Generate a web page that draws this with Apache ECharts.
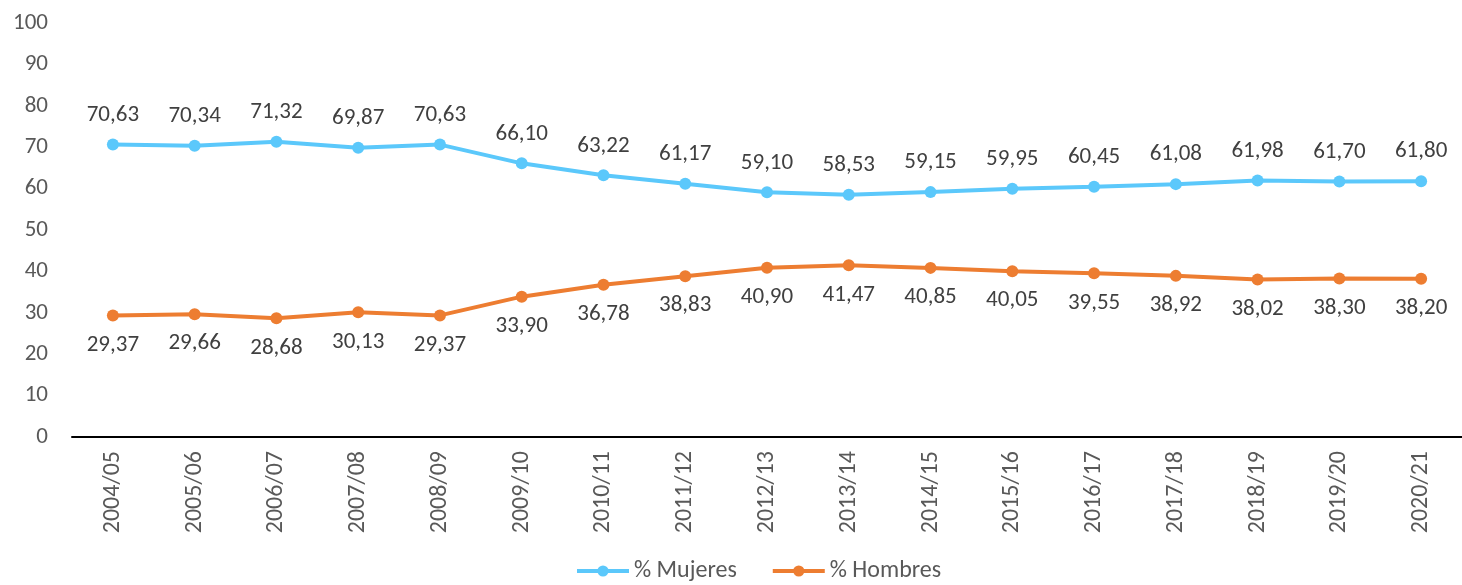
<!DOCTYPE html>
<html>
<head>
<meta charset="utf-8">
<script src="https://cdn.jsdelivr.net/npm/echarts@6/dist/echarts.min.js"></script>
<style>
  html, body { margin: 0; padding: 0; background: #fff; }
  #chart { width: 1462px; height: 585px; }
</style>
</head>
<body>
<div id="chart"></div>
<script>
const categories = ['2004/05', '2005/06', '2006/07', '2007/08', '2008/09', '2009/10', '2010/11', '2011/12',
  '2012/13', '2013/14', '2014/15', '2015/16', '2016/17', '2017/18', '2018/19', '2019/20', '2020/21']
const mujeres = [70.63, 70.34, 71.32, 69.87, 70.63, 66.10, 63.22, 61.17, 59.10, 58.53, 59.15, 59.95, 60.45, 61.08, 61.98, 61.70, 61.80]
const hombres = [29.37, 29.66, 28.68, 30.13, 29.37, 33.90, 36.78, 38.83, 40.90, 41.47, 40.85, 40.05, 39.55, 38.92, 38.02, 38.30, 38.20]

const fontFamily = 'Carlito, "Open Sans", "Noto Sans", sans-serif'
const fmt = p => p.value.toFixed(2).replace('.', ',')

const chart = echarts.init(document.getElementById('chart'))
chart.setOption({
  animation: false,
  textStyle: { fontFamily: fontFamily },
  grid: { left: 72, right: 0, top: 23, bottom: 148 },
  legend: {
    left: 570,
    bottom: -3,
    itemWidth: 52,
    itemHeight: 14,
    itemGap: 34,
    lineStyle: { width: 4 },
    textStyle: { fontSize: 24, color: '#595959', fontFamily: fontFamily },
    data: ['% Mujeres', '% Hombres']
  },
  xAxis: {
    type: 'category',
    data: categories,
    boundaryGap: true,
    axisLine: { lineStyle: { color: '#000', width: 2 } },
    axisTick: { show: false },
    axisLabel: { rotate: 90, fontSize: 24, color: '#595959', margin: 14, fontFamily: fontFamily }
  },
  yAxis: {
    type: 'value',
    min: 0,
    max: 100,
    interval: 10,
    splitLine: { show: false },
    axisLine: { show: false },
    axisTick: { show: false },
    axisLabel: { fontSize: 23, color: '#595959', margin: 24, fontFamily: fontFamily }
  },
  series: [
    {
      name: '% Mujeres',
      type: 'line',
      data: mujeres,
      symbol: 'circle',
      symbolSize: 12,
      lineStyle: { width: 4, color: '#5BC8FB' },
      itemStyle: { color: '#5BC8FB' },
      label: { show: true, position: 'top', distance: 12, fontSize: 23, color: '#404040', formatter: fmt, fontFamily: fontFamily }
    },
    {
      name: '% Hombres',
      type: 'line',
      data: hombres,
      symbol: 'circle',
      symbolSize: 12,
      lineStyle: { width: 4, color: '#ED7D31' },
      itemStyle: { color: '#ED7D31' },
      label: { show: true, position: 'bottom', distance: 12, fontSize: 23, color: '#404040', formatter: fmt, fontFamily: fontFamily }
    }
  ]
})
</script>
</body>
</html>
